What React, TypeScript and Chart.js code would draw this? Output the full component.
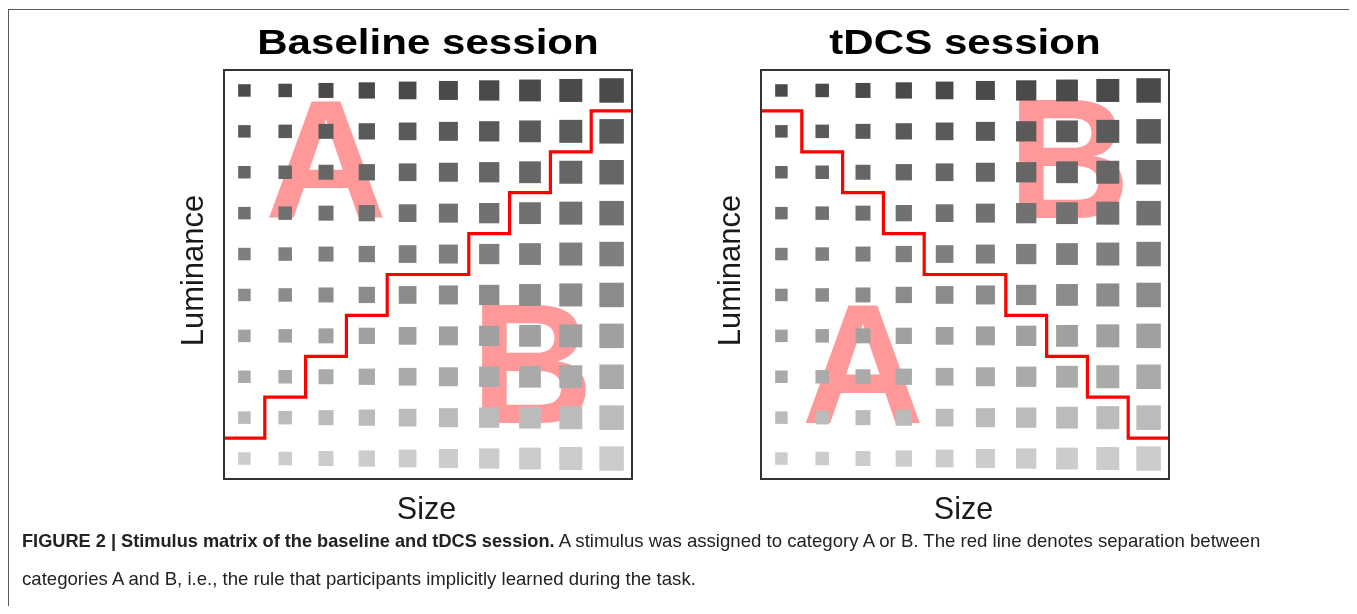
import React, { useEffect, useRef } from "react";
import { Chart, registerables } from "chart.js";

Chart.register(...registerables);

// ---- data ----
const sizeLevels = [0, 1, 2, 3, 4, 5, 6, 7, 8, 9]; // stimulus size steps (x)
const luminanceLevels = [0, 1, 2, 3, 4, 5, 6, 7, 8, 9]; // luminance steps (y, 0 = lightest, bottom)
const stimulusSide = [12.5, 13.5, 15, 16.3, 17.7, 19, 20.3, 21.8, 23, 24.5]; // square side per size step
const luminanceGray = ["#cccccc", "#bbbbbb", "#aaaaaa", "#a0a0a0", "#8b8b8b", "#7f7f7f", "#717171", "#666666", "#5a5a5a", "#4a4a4a"];
const ruleX = [-0.5, 0.5, 1.5, 2.5, 3.5, 4.5, 5.5, 6.5, 7.5, 8.5, 9.5];
const baselineRuleY = [0.5, 1.5, 2.5, 3.5, 4.5, 4.5, 5.5, 6.5, 7.5, 8.5, 8.5];
const tdcsRuleY = [8.5, 7.5, 6.5, 5.5, 4.5, 4.5, 3.5, 2.5, 1.5, 0.5, 0.5];
const baselineLetters = [
  { text: "A", x: 2.0, base: 5.89, top: 8.85 },
  { text: "B", x: 7.05, base: 0.88, top: 3.86 },
];
const tdcsLetters = [
  { text: "B", x: 7.05, base: 5.87, top: 8.85 },
  { text: "A", x: 2.0, base: 0.88, top: 3.86 },
];

function makePlugin(title, letters) {
  return {
    id: "panelDecor",
    beforeDatasetsDraw(chart) {
      const { ctx, chartArea, scales } = chart;
      ctx.save();
      ctx.beginPath();
      ctx.rect(chartArea.left, chartArea.top, chartArea.right - chartArea.left, chartArea.bottom - chartArea.top);
      ctx.clip();
      ctx.fillStyle = "#ff9999";
      ctx.textAlign = "center";
      ctx.textBaseline = "alphabetic";
      for (const l of letters) {
        const px = scales.x.getPixelForValue(l.x);
        const pb = scales.y.getPixelForValue(l.base);
        const pt = scales.y.getPixelForValue(l.top);
        const fs = Math.round((pb - pt) / 0.716);
        ctx.font = "bold " + fs + 'px "Liberation Sans", Arial, sans-serif';
        ctx.fillText(l.text, px, pb);
      }
      ctx.restore();
    },
    afterDraw(chart) {
      const { ctx, chartArea } = chart;
      const cx = (chartArea.left + chartArea.right) / 2;
      const cy = (chartArea.top + chartArea.bottom) / 2;
      ctx.save();
      ctx.strokeStyle = "#333333";
      ctx.lineWidth = 2;
      ctx.strokeRect(chartArea.left, chartArea.top, chartArea.right - chartArea.left, chartArea.bottom - chartArea.top);
      ctx.fillStyle = "#000000";
      ctx.textAlign = "center";
      ctx.textBaseline = "alphabetic";
      ctx.font = 'bold 34.5px "Liberation Sans", Arial, sans-serif';
      ctx.save();
      ctx.translate(cx, chartArea.top - 16);
      ctx.scale(1.22, 1);
      ctx.fillText(title, 0, 0);
      ctx.restore();
      ctx.fillStyle = "#1a1a1a";
      ctx.font = '30.5px "Liberation Sans", Arial, sans-serif';
      ctx.fillText("Size", cx - 1.5, chartArea.bottom + 39.5);
      ctx.save();
      ctx.translate(chartArea.left - 20.7, cy - 4);
      ctx.rotate(-Math.PI / 2);
      ctx.font = '31px "Liberation Sans", Arial, sans-serif';
      ctx.fillText("Luminance", 0, 0);
      ctx.restore();
      ctx.restore();
    },
  };
}

function Panel(props) {
  const { title, ruleY, letters, left } = props;
  const ref = useRef(null);
  useEffect(() => {
    const squares = [];
    const radii = [];
    const colors = [];
    luminanceLevels.forEach((ly) => {
      sizeLevels.forEach((sx) => {
        squares.push({ x: sx, y: ly });
        radii.push(stimulusSide[sx] / Math.SQRT2);
        colors.push(luminanceGray[ly]);
      });
    });
    const chart = new Chart(ref.current, {
      type: "scatter",
      data: {
        datasets: [
          {
            type: "line",
            data: ruleX.map((x, i) => ({ x, y: ruleY[i] })),
            stepped: true,
            borderColor: "#ff0000",
            borderWidth: 3.2,
            pointRadius: 0,
            fill: false,
            order: 0,
          },
          {
            type: "scatter",
            data: squares,
            pointStyle: "rect",
            pointRadius: radii,
            pointBackgroundColor: colors,
            backgroundColor: colors,
            pointBorderWidth: 0,
            borderWidth: 0,
            order: 1,
          },
        ],
      },
      options: {
        animation: false,
        responsive: false,
        maintainAspectRatio: false,
        devicePixelRatio: 1,
        layout: { padding: { left: 64, right: 18, top: 62, bottom: 49 } },
        scales: {
          x: { type: "linear", min: -0.5, max: 9.5, display: false },
          y: { type: "linear", min: -0.5, max: 9.5, display: false },
        },
        plugins: { legend: { display: false }, tooltip: { enabled: false } },
      },
      plugins: [makePlugin(title, letters)],
    });
    return () => chart.destroy();
  }, []);
  return (
    <div style={{ position: "absolute", left: left, top: 0, width: 490, height: 520 }}>
      <canvas ref={ref} width={490} height={520} style={{ display: "block", width: 490, height: 520 }} />
    </div>
  );
}

export default function App() {
  return (
    <div style={{ position: "relative", width: 1349, height: 598, overflow: "hidden", background: "#ffffff" }}>
      <div
        style={{
          position: "absolute",
          left: 0,
          top: 1,
          width: 1348,
          height: 640,
          boxSizing: "border-box",
          border: "1px solid #5a5a5a",
        }}
      />
      <Panel title="Baseline session" ruleY={baselineRuleY} letters={baselineLetters} left={152} />
      <Panel title="tDCS session" ruleY={tdcsRuleY} letters={tdcsLetters} left={689} />
      <div
        style={{
          position: "absolute",
          left: 14,
          top: 514,
          fontFamily: '"Liberation Sans", Arial, sans-serif',
          fontSize: 18.6,
          lineHeight: "37px",
          color: "#222222",
          whiteSpace: "nowrap",
        }}
      >
        <b style={{ fontSize: 18.2 }}>FIGURE 2 | Stimulus matrix of the baseline and tDCS session.</b> A stimulus was assigned to category A or B. The red line denotes separation between
        <br />
        categories A and B, i.e., the rule that participants implicitly learned during the task.
      </div>
    </div>
  );
}
